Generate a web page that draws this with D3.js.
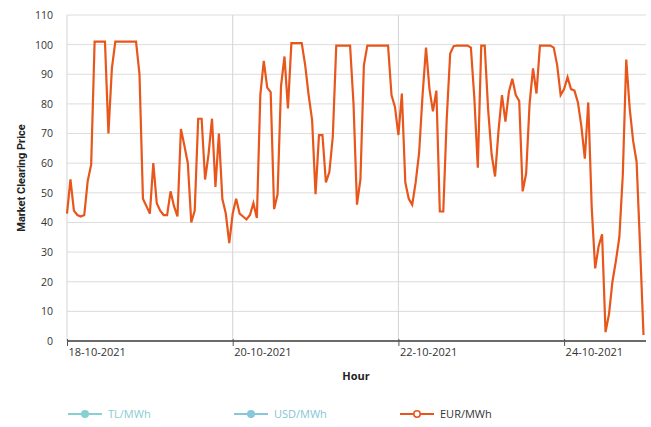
<!DOCTYPE html>
<html>
<head>
<meta charset="utf-8">
<script src="https://cdn.jsdelivr.net/npm/d3@7"></script>
<style>
  html, body { margin: 0; padding: 0; background: #ffffff; }
  svg { display: block; }
  text { font-family: "Open Sans", "DejaVu Sans", sans-serif; }
</style>
</head>
<body>
<svg id="chart" width="651" height="427"></svg>
<script>
// Hourly market clearing price, 18-10-2021 00:00 to 24-10-2021 23:00 (EUR/MWh)
const startHour = "2021-10-18 00:00";
const eurPerMWh = [
  43, 54.5, 44, 42.5, 42, 42.5, 54, 59.5, 101, 101, 101, 101, 70, 92, 101, 101, 101, 101, 101, 101, 101, 90, 48, 45.5,
  43, 60, 46.5, 44, 42.5, 42.5, 50.5, 45.5, 42, 71.5, 66, 60, 40, 44, 75, 75, 54.5, 63, 75, 52, 70, 48, 43, 33,
  43, 48, 43, 42, 41, 42.5, 46.5, 41.5, 83, 94.5, 85.5, 84, 44.5, 49.5, 86, 96, 78.5, 100.5, 100.5, 100.5, 100.5, 93, 83, 74.5,
  49.5, 69.5, 69.5, 53.5, 57, 69, 99.7, 99.7, 99.7, 99.7, 99.7, 80, 46, 54.5, 93, 99.7, 99.7, 99.7, 99.7, 99.7, 99.7, 99.7, 83, 79,
  69.5, 83.5, 53.5, 48, 46, 53.5, 63.5, 83, 99, 85, 77.5, 84.5, 43.7, 43.7, 75, 97, 99.5, 99.7, 99.7, 99.7, 99.7, 99, 82, 58.5,
  99.7, 99.7, 78, 63, 55.5, 71, 83, 74, 84, 88.5, 83, 81, 50.5, 56.5, 80, 92, 83.5, 99.7, 99.7, 99.7, 99.7, 99, 93, 83,
  85, 89, 85, 84.5, 80.5, 72.5, 61.5, 80.5, 45, 24.5, 32, 36, 3, 9, 20, 27, 35, 56, 95, 78.5, 67.5, 60.5, 32, 2
];
const yTicks = [0, 10, 20, 30, 40, 50, 60, 70, 80, 90, 100, 110];
const xTickDates = ["2021-10-18", "2021-10-20", "2021-10-22", "2021-10-24"];
const legendItems = ["TL/MWh", "USD/MWh", "EUR/MWh"];
const legendColors = ["#86d0d2", "#88c6da", "#e8561c"];
const legendTextColors = ["#86cdd0", "#86c4d6", "#333333"];

const parseHour = d3.timeParse("%Y-%m-%d %H:%M");
const parseDay = d3.timeParse("%Y-%m-%d");
const fmtDay = d3.timeFormat("%d-%m-%Y");
const t0 = parseHour(startHour);
const series = eurPerMWh.map((v, i) => ({ t: d3.timeHour.offset(t0, i), v }));

const svg = d3.select("#chart");
const plotLeft = 67, plotRight = 646, plotTop = 15, plotBottom = 341;
const lineColor = "#e8561c";

const x = d3.scaleTime()
  .domain([series[0].t, series[series.length - 1].t])
  .range([plotLeft, 643.5]);
const y = d3.scaleLinear().domain([0, 110]).range([plotBottom, plotTop]);

// horizontal grid
svg.append("g")
  .selectAll("line")
  .data(yTicks.filter(d => d > 0))
  .join("line")
  .attr("x1", plotLeft).attr("x2", plotRight)
  .attr("y1", d => y(d)).attr("y2", d => y(d))
  .attr("stroke", "#dcdcdc").attr("stroke-width", 1);

// vertical grid at date ticks
const xTicks = xTickDates.map(parseDay);
svg.append("g")
  .selectAll("line")
  .data(xTicks)
  .join("line")
  .attr("x1", d => x(d)).attr("x2", d => x(d))
  .attr("y1", plotTop).attr("y2", plotBottom)
  .attr("stroke", "#d4d4d4").attr("stroke-width", 1);

// y axis labels
const yAxis = d3.axisLeft(y).tickValues(yTicks).tickSize(0).tickPadding(14);
svg.append("g")
  .attr("transform", `translate(${plotLeft},0)`)
  .call(yAxis)
  .call(g => g.select(".domain").remove())
  .call(g => g.selectAll("text")
    .attr("fill", "#333").attr("font-size", 10.5)
    .style("font-family", "'Open Sans', sans-serif"));

// x axis
const xAxis = d3.axisBottom(x).tickValues(xTicks).tickFormat(fmtDay).tickSize(5).tickSizeOuter(0);
svg.append("g")
  .attr("transform", `translate(0,${plotBottom})`)
  .call(xAxis)
  .call(g => g.select(".domain").attr("stroke", "#6b6b6b").attr("stroke-width", 2)
    .attr("d", `M${plotLeft},0H${plotRight}`))
  .call(g => g.selectAll(".tick line").attr("stroke", "#555").attr("y1", -2))
  .call(g => g.selectAll("text")
    .attr("fill", "#333").attr("font-size", 11)
    .attr("text-anchor", "start").attr("dx", 1).attr("y", 7)
    .style("font-family", "'Open Sans', sans-serif"));

// price line
svg.append("path")
  .datum(series)
  .attr("fill", "none")
  .attr("stroke", lineColor)
  .attr("stroke-width", 2.2)
  .attr("stroke-linejoin", "miter")
  .attr("d", d3.line().x(d => x(d.t)).y(d => y(d.v)));

// axis titles
svg.append("text")
  .attr("x", 356).attr("y", 380)
  .attr("text-anchor", "middle")
  .attr("font-size", 11).attr("font-weight", "bold").attr("fill", "#222")
  .text("Hour");

svg.append("text")
  .attr("transform", "translate(25,178) rotate(-90)")
  .attr("text-anchor", "middle")
  .attr("font-size", 11).attr("font-weight", "bold").attr("fill", "#222")
  .style("font-family", "'Liberation Sans Narrow', 'Roboto', sans-serif")
  .text("Market Clearing Price");

// legend
const legendX = d3.scalePoint().domain(legendItems).range([68, 400]);
const lg = svg.append("g").selectAll("g")
  .data(legendItems)
  .join("g")
  .attr("transform", d => `translate(${legendX(d)},414)`);
lg.append("line")
  .attr("x1", 0).attr("x2", 34).attr("y1", 0).attr("y2", 0)
  .attr("stroke", (d, i) => legendColors[i]).attr("stroke-width", 2);
lg.append("circle")
  .attr("cx", 17).attr("cy", 0).attr("r", 3.2)
  .attr("fill", (d, i) => i === 2 ? "#fff" : legendColors[i])
  .attr("stroke", (d, i) => legendColors[i]).attr("stroke-width", 1.6);
lg.append("text")
  .attr("x", 40).attr("y", 4)
  .attr("font-size", 11)
  .attr("fill", (d, i) => legendTextColors[i])
  .text(d => d);
</script>
</body>
</html>
